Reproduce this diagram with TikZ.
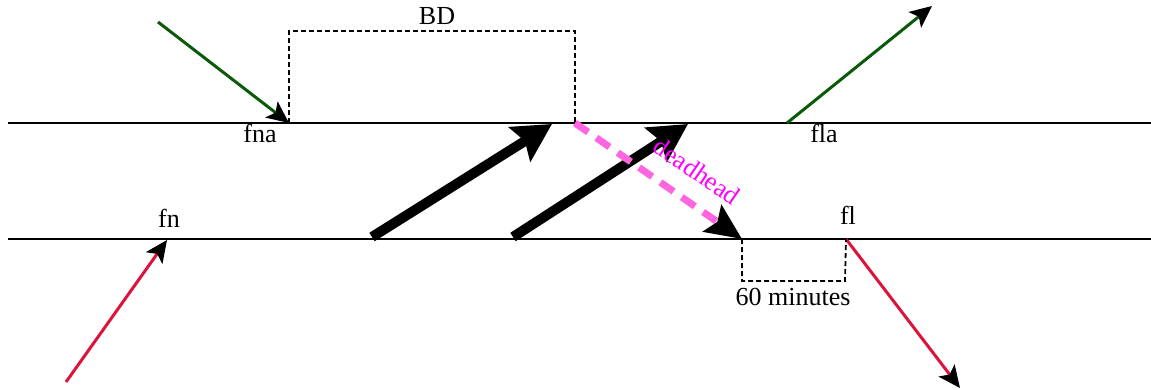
\documentclass[tikz,border=0pt]{standalone}
\usepackage{fontspec}
\setmainfont{Liberation Serif}
\usetikzlibrary{arrows.meta}
\definecolor{dgreen}{RGB}{10,90,10}
\definecolor{myred}{RGB}{220,20,60}
\definecolor{mypink}{RGB}{255,100,225}
\definecolor{mymag}{RGB}{255,0,255}
\begin{document}
\begin{tikzpicture}[x=1pt,y=-1pt,
  track/.style={line width=2pt},
  train/.style={line width=3pt,-{Stealth[length=22pt,width=20pt,inset=5pt,color=black]}},
  bigarrow/.style={line width=10pt,-{Stealth[length=38pt,width=40pt,inset=6pt]}},
  deadline/.style={line width=7pt,mypink,dash pattern=on 16pt off 10pt,-{Stealth[length=36pt,width=32pt,inset=6pt,color=black]}},
  gap/.style={line width=1.8pt,dash pattern=on 5pt off 3pt},
  lbl/.style={font=\fontsize{26}{30}\selectfont,inner sep=0pt}]
\useasboundingbox (0,0) rectangle (1151,389);
% tracks
\coordinate (t1) at (8,123);
\coordinate (t2) at (1151,123);
\coordinate (b1) at (8,239);
\coordinate (b2) at (1151,239);
\draw[track] (t1) -- (t2);
\draw[track] (b1) -- (b2);
% key points
\coordinate (fnaP) at (289,123);
\coordinate (bdR) at (575,123);
\coordinate (flaP) at (787,123);
\coordinate (fnP) at (167,240);
\coordinate (dhE) at (742,239);
\coordinate (flP) at (846,239);
% external arrows
\coordinate (gin) at (158,22);
\coordinate (gout) at (932,6);
\coordinate (rin) at (66,382);
\coordinate (rout) at (960,388);
\draw[train,dgreen] (gin) -- (fnaP);
\draw[train,dgreen] (flaP) -- (gout);
\draw[train,myred] (rin) -- (fnP);
\draw[train,myred] (flP) -- (rout);
% BD box
\coordinate (bdA) at (289,31);
\coordinate (bdB) at (575,31);
\draw[gap] (fnaP) -- (bdA) -- (bdB) -- (bdR);
% 60 minutes box
\coordinate (mA) at (742,281);
\coordinate (mB) at (845,281);
\draw[gap] (dhE) -- (mA) -- (mB) -- (flP);
% thick arrows
\coordinate (k1s) at (372,237);
\coordinate (k1e) at (552,124);
\coordinate (k2s) at (513,237);
\coordinate (k2e) at (688,124);
\draw[bigarrow] (k1s) -- (k1e);
\draw[bigarrow] (k2s) -- (k2e);
% deadhead
\draw[deadline] (bdR) -- (dhE);
\node[lbl,text=mymag,rotate=-34.3] (dh) at (697,171) {deadhead};
% labels
\node[lbl] (BD) at (437,16) {BD};
\node[lbl] (fna) at (260,133) {fna};
\node[lbl] (fla) at (824,133) {fla};
\node[lbl] (fn) at (169,218) {fn};
\node[lbl] (fl) at (848,215) {fl};
\node[lbl] (min) at (793,297) {60 minutes};
\end{tikzpicture}
\end{document}
